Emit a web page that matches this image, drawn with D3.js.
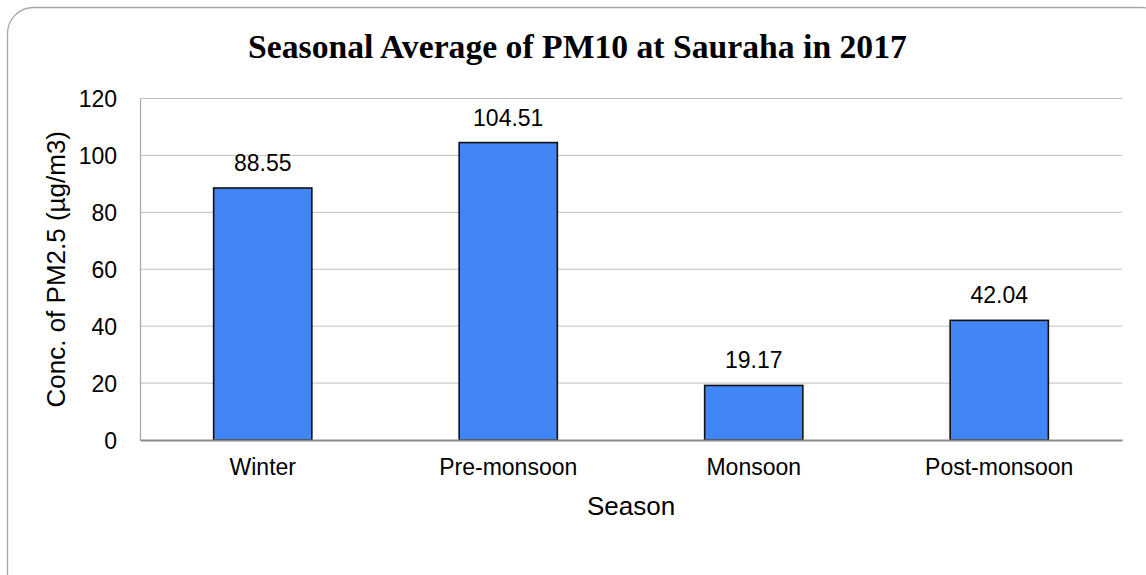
<!DOCTYPE html>
<html>
<head>
<meta charset="utf-8">
<script src="https://cdn.jsdelivr.net/npm/d3@7"></script>
<style>
  html, body { margin: 0; padding: 0; background: #ffffff; }
  svg { display: block; }
</style>
</head>
<body>
<svg id="chart" width="1146" height="575"></svg>
<script>
// ---- data ----
const categories = ["Winter", "Pre-monsoon", "Monsoon", "Post-monsoon"];
const values = [88.55, 104.51, 19.17, 42.04];
const yTicks = [0, 20, 40, 60, 80, 100, 120];
const titleText = "Seasonal Average of PM10 at Sauraha in 2017";
const xTitle = "Season";
const yTitle = "Conc. of PM2.5 (µg/m3)";

// ---- layout ----
const plot = { left: 140, right: 1122, top: 98.5, bottom: 440 };
const svg = d3.select("#chart");
const sans = "'Liberation Sans', Arial, sans-serif";

// outer rounded border
svg.append("rect")
  .attr("x", 7.5).attr("y", 7.5)
  .attr("width", 1160).attr("height", 600)
  .attr("rx", 26).attr("ry", 26)
  .attr("fill", "#ffffff")
  .attr("stroke", "#a6a6a6")
  .attr("stroke-width", 1.3);

const x = d3.scaleBand()
  .domain(categories)
  .range([plot.left, plot.right])
  .paddingInner(0.6)
  .paddingOuter(0.3);

const y = d3.scaleLinear()
  .domain([0, 120])
  .range([plot.bottom, plot.top]);

// gridlines
svg.append("g")
  .selectAll("line")
  .data(yTicks.filter(d => d > 0))
  .join("line")
  .attr("x1", plot.left).attr("x2", plot.right)
  .attr("y1", d => y(d)).attr("y2", d => y(d))
  .attr("stroke", "#c0c0c0")
  .attr("stroke-width", 1);

// y axis
const yAxis = d3.axisLeft(y).tickValues(yTicks).tickSize(0).tickPadding(23);
const gy = svg.append("g")
  .attr("transform", `translate(${plot.left},0)`)
  .call(yAxis);
gy.select(".domain").attr("stroke", "#a6a6a6").attr("stroke-width", 1.2);
gy.selectAll("text")
  .attr("font-family", sans)
  .attr("font-size", 23)
  .attr("fill", "#000")
  .attr("dy", "0.36em");

// bars
svg.append("g")
  .selectAll("rect")
  .data(categories.map((c, i) => ({ c, v: values[i] })))
  .join("rect")
  .attr("x", d => x(d.c))
  .attr("y", d => y(d.v))
  .attr("width", x.bandwidth())
  .attr("height", d => y(0) - y(d.v))
  .attr("fill", "#4285f4")
  .attr("stroke", "#111111")
  .attr("stroke-width", 1.6);

// x axis
const xAxis = d3.axisBottom(x).tickSize(0).tickPadding(19);
const gx = svg.append("g")
  .attr("transform", `translate(0,${plot.bottom})`)
  .call(xAxis);
gx.select(".domain").attr("stroke", "#8c8c8c").attr("stroke-width", 1.8);
gx.selectAll("text")
  .attr("font-family", sans)
  .attr("font-size", 23)
  .attr("fill", "#000")
  .attr("dy", "0.71em");

// data labels
svg.append("g")
  .selectAll("text")
  .data(categories.map((c, i) => ({ c, v: values[i] })))
  .join("text")
  .attr("x", d => x(d.c) + x.bandwidth() / 2)
  .attr("y", d => y(d.v) - 17)
  .attr("text-anchor", "middle")
  .attr("font-family", sans)
  .attr("font-size", 23)
  .attr("fill", "#000")
  .text(d => d.v.toFixed(2));

// axis titles
svg.append("text")
  .attr("x", (plot.left + plot.right) / 2)
  .attr("y", 515)
  .attr("text-anchor", "middle")
  .attr("font-family", sans)
  .attr("font-size", 26)
  .attr("fill", "#000")
  .text(xTitle);

svg.append("text")
  .attr("transform", `translate(65,${(plot.top + plot.bottom) / 2}) rotate(-90)`)
  .attr("text-anchor", "middle")
  .attr("font-family", sans)
  .attr("font-size", 26)
  .attr("fill", "#000")
  .text(yTitle);

// chart title (fit to measured width)
const title = svg.append("text")
  .attr("x", 577.5)
  .attr("y", 58)
  .attr("text-anchor", "middle")
  .attr("font-family", "'Liberation Serif', 'Times New Roman', serif")
  .attr("font-weight", "bold")
  .attr("font-size", 100)
  .attr("fill", "#000")
  .text(titleText);
const tw = title.node().getComputedTextLength();
title.attr("font-size", 100 * 659 / tw);
</script>
</body>
</html>
